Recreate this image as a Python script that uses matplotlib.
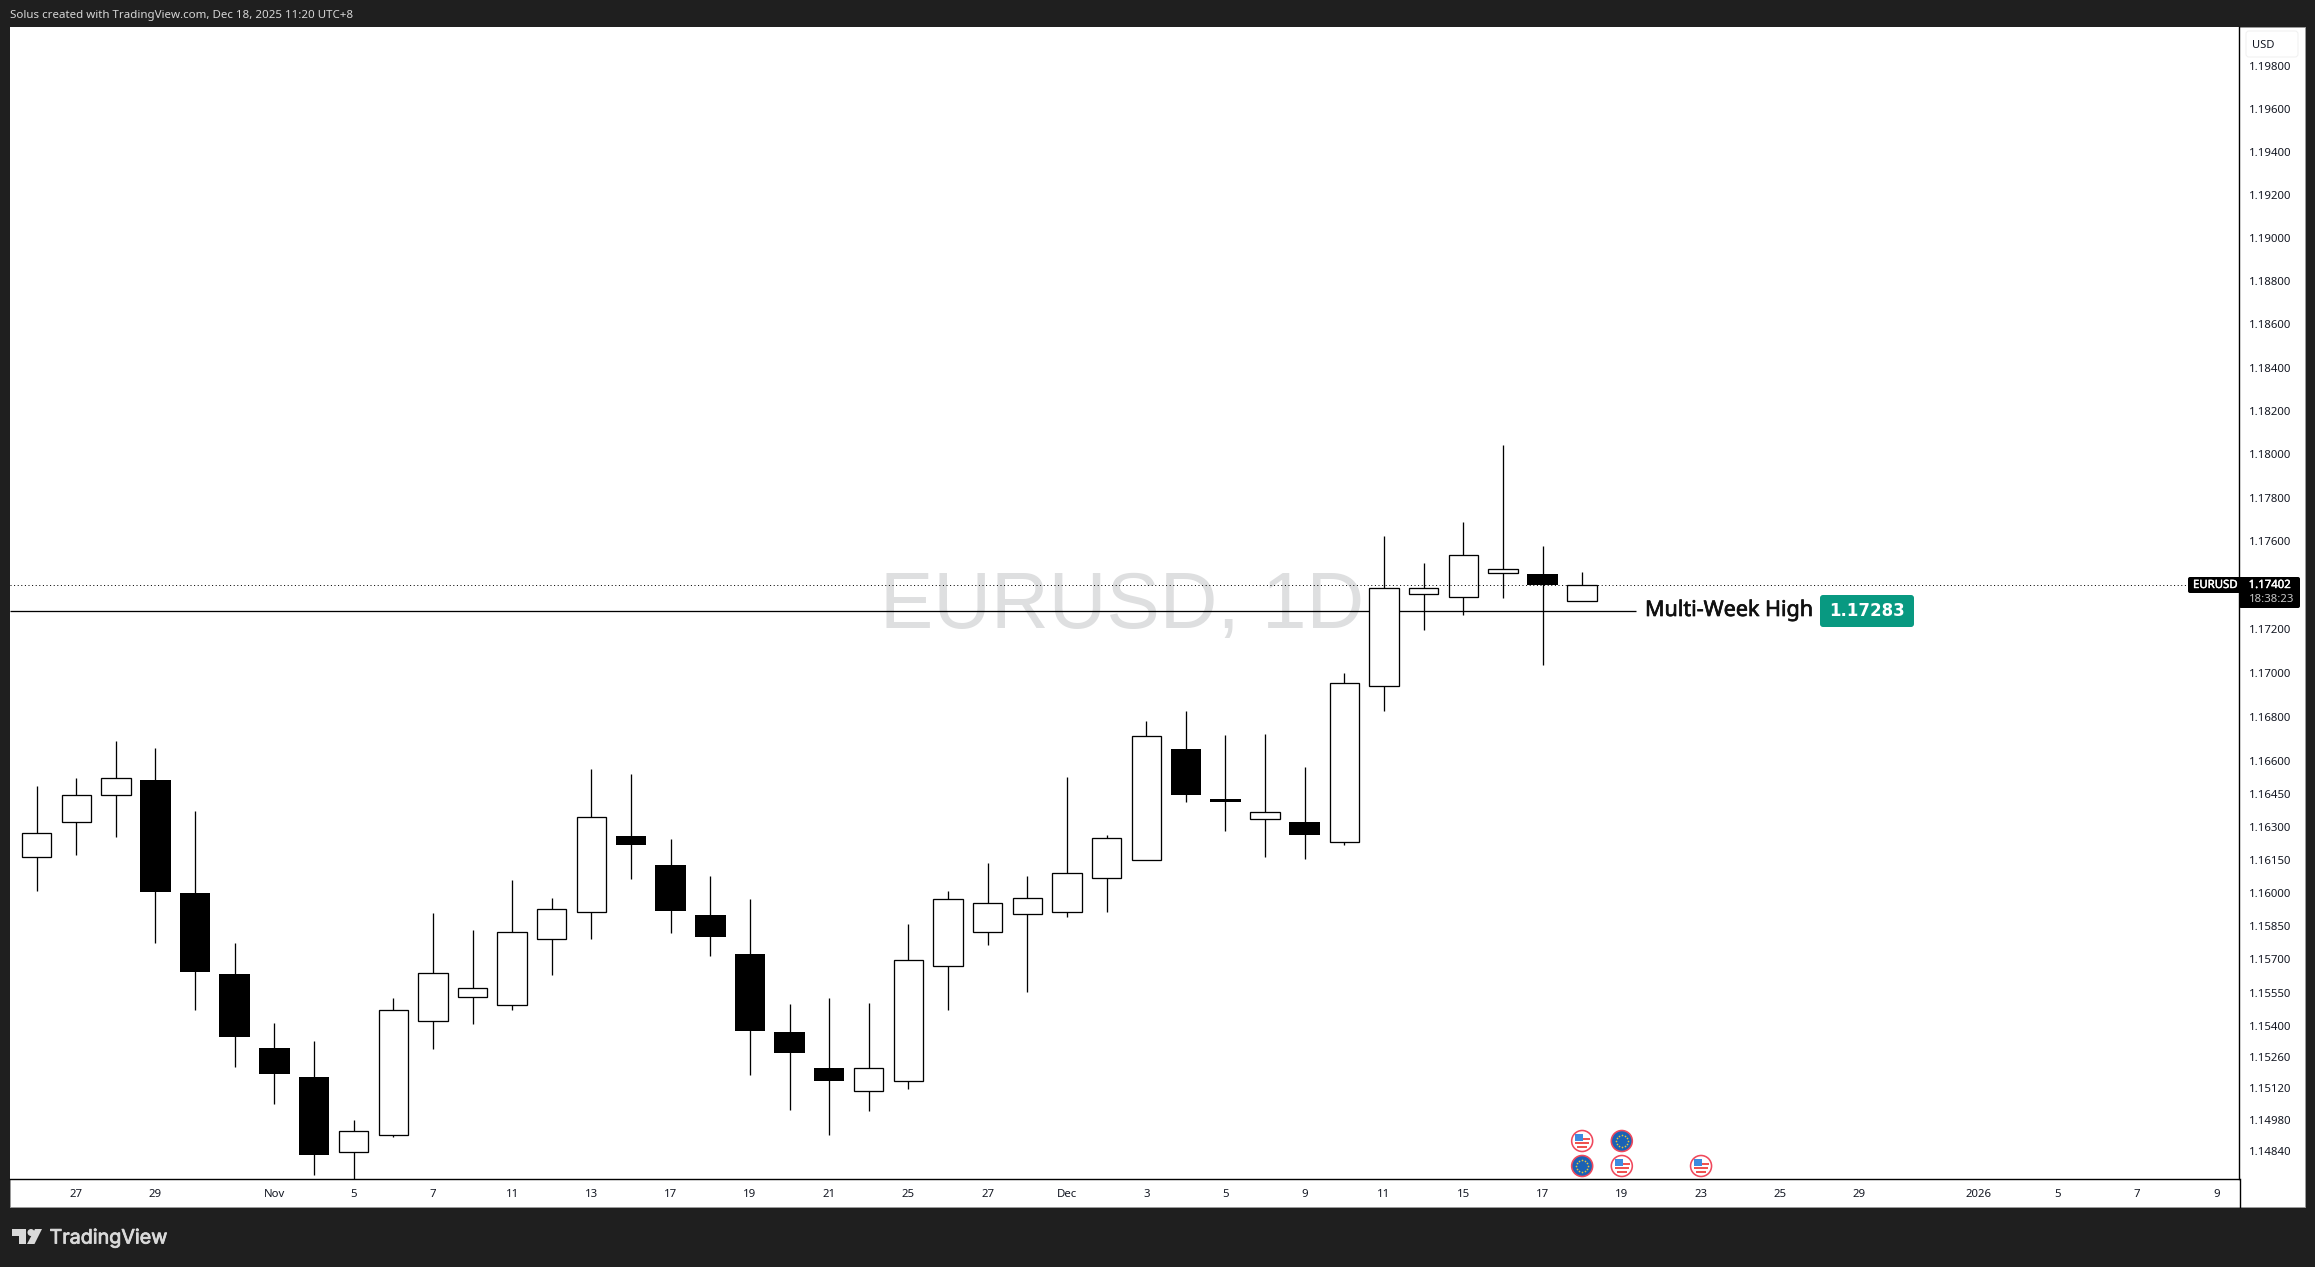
import numpy as np
import matplotlib
matplotlib.use("Agg")
import matplotlib.pyplot as plt
import matplotlib.patheffects as pe
from matplotlib.patches import Rectangle, FancyBboxPatch, Circle, Polygon
from matplotlib.ticker import NullLocator, NullFormatter

# EURUSD daily candles
opens = [1.16161, 1.16320, 1.16442, 1.16512, 1.16000, 1.15634, 1.15301, 1.15171, 1.14833, 1.14909,
         1.15424, 1.15529, 1.15496, 1.15794, 1.15915, 1.16258, 1.16126, 1.15900, 1.15725, 1.15373,
         1.15212, 1.15110, 1.15155, 1.15672, 1.15825, 1.15906, 1.15915, 1.16069, 1.16151, 1.16653,
         1.16425, 1.16336, 1.16321, 1.16232, 1.16941, 1.17361, 1.17344, 1.17457, 1.17449, 1.17329]
highs = [1.16485, 1.16521, 1.16689, 1.16658, 1.16371, 1.15774, 1.15414, 1.15333, 1.14979, 1.15526,
         1.15909, 1.15833, 1.16059, 1.15977, 1.16562, 1.16539, 1.16244, 1.16077, 1.15974, 1.15499,
         1.15526, 1.15504, 1.15860, 1.16010, 1.16136, 1.16077, 1.16526, 1.16262, 1.16780, 1.16826,
         1.16717, 1.16721, 1.16571, 1.16999, 1.17625, 1.17500, 1.17689, 1.18043, 1.17578, 1.17459]
lows = [1.16009, 1.16172, 1.16253, 1.15774, 1.15472, 1.15216, 1.15050, 1.14730, 1.14690, 1.14904,
        1.15297, 1.15409, 1.15472, 1.15630, 1.15792, 1.16063, 1.15819, 1.15716, 1.15180, 1.15023,
        1.14912, 1.15019, 1.15117, 1.15472, 1.15765, 1.15553, 1.15891, 1.15914, 1.16151, 1.16412,
        1.16281, 1.16163, 1.16154, 1.16217, 1.16826, 1.17195, 1.17265, 1.17343, 1.17036, 1.17329]
closes = [1.16270, 1.16442, 1.16520, 1.16004, 1.15643, 1.15351, 1.15185, 1.14822, 1.14928, 1.15471,
          1.15637, 1.15570, 1.15822, 1.15926, 1.16342, 1.16217, 1.15918, 1.15801, 1.15378, 1.15279,
          1.15153, 1.15210, 1.15696, 1.15971, 1.15953, 1.15979, 1.16089, 1.16247, 1.16712, 1.16444,
          1.16412, 1.16365, 1.16262, 1.16955, 1.17385, 1.17385, 1.17537, 1.17472, 1.17400, 1.17402]

last_price = 1.17402
level = 1.17283

price_ticks = [1.198, 1.196, 1.194, 1.192, 1.19, 1.188, 1.186, 1.184, 1.182, 1.18, 1.178, 1.176,
               1.172, 1.17, 1.168, 1.166, 1.1645, 1.163, 1.1615, 1.16, 1.1585, 1.157, 1.1555,
               1.154, 1.1526, 1.1512, 1.1498, 1.1484]
date_ticks = [2, 4, 7, 9, 11, 13, 15, 17, 19, 21, 23, 25, 27, 29, 31, 33, 35, 37, 39, 41, 43, 45, 47,
              50, 52, 54, 56]
date_labels = ["27", "29", "Nov", "5", "7", "11", "13", "17", "19", "21", "25", "27", "Dec", "3", "5",
               "9", "11", "15", "17", "19", "23", "25", "29", "2026", "5", "7", "9"]

# economic events: candle position, row, flag
event_x = [40, 40, 41, 41, 43]
event_row = [1141, 1166, 1141, 1166, 1166]
event_flag = ["us", "eu", "eu", "us", "us"]

W, H = 2315, 1267
FONT = "Noto Sans"
plt.rcParams["font.family"] = [FONT, "DejaVu Sans"]
TXT = "#131722"
px = 0.72  # one pixel in points at dpi 100


def heavy(color, w=0.35):
    # the sans here has no usable bold, so thicken the glyphs a little
    return [pe.withStroke(linewidth=w, foreground=color)]


fig = plt.figure(figsize=(W / 100, H / 100), dpi=100, facecolor="#1f1f1f")

# white panel behind the chart
fig.patches.append(Rectangle((10 / W, 1 - 1207 / H), 2295 / W, 1180 / H, transform=fig.transFigure,
                             facecolor="white", edgecolor="#9a9a9a", linewidth=px, zorder=-1))

ax = fig.add_axes([10 / W, 1 - 1179 / H, 2229 / W, 1152 / H])
ax.set_yscale("log")
ax.set_xlim(0.329, 56.575)
ax.set_ylim(1.14714, 1.19982)

x = np.arange(1, len(opens) + 1)
o, h, l, c = map(np.array, (opens, highs, lows, closes))
up = c >= o

ax.text(28.39, 1.1730, "EURUSD, 1D", family="Liberation Sans", fontsize=57.6, color="#dedfe0",
        ha="center", va="center", zorder=1)
ax.hlines(level, 0.329, 41.36, color="black", linewidth=px * 1.3, zorder=2)

ax.vlines(x, l, h, color="black", linewidth=px * 1.3, zorder=3)
ax.bar(x[up], (c - o)[up], bottom=o[up], width=0.74, facecolor="white", edgecolor="black",
       linewidth=px * 1.3, zorder=4)
ax.bar(x[~up], (o - c)[~up], bottom=c[~up], width=0.77, facecolor="black", edgecolor="black",
       linewidth=0, zorder=4)
ax.axhline(last_price, color="black", linewidth=px, linestyle=(0, (1, 2.6)), zorder=5)

for s in ["left", "top"]:
    ax.spines[s].set_visible(False)
for s in ["right", "bottom"]:
    ax.spines[s].set_linewidth(px * 1.4)

ax.yaxis.tick_right()
ax.set_yticks(price_ticks)
ax.set_yticklabels([f"{t:.5f}" for t in price_ticks])
ax.yaxis.set_minor_locator(NullLocator())
ax.yaxis.set_minor_formatter(NullFormatter())
ax.set_xticks(date_ticks)
ax.set_xticklabels(date_labels)
ax.tick_params(axis="y", length=0, pad=7, labelsize=8.2, labelcolor=TXT)
ax.tick_params(axis="x", length=0, pad=7, labelsize=8.2, labelcolor=TXT)

# overlay in pixel coordinates for the chrome around the chart
ov = fig.add_axes([0, 0, 1, 1], facecolor="none")
ov.set_xlim(0, W)
ov.set_ylim(H, 0)
ov.axis("off")

ov.plot([2239.5, 2239.5], [1179, 1207], color="black", linewidth=px * 1.4)
ov.text(10, 15.5, "Solus created with TradingView.com, Dec 18, 2025 11:20 UTC+8", color="#d6d6d6",
        fontsize=8.3, va="center", ha="left")

# USD box
ov.add_patch(FancyBboxPatch((2246, 31), 52, 26, boxstyle="round,pad=0,rounding_size=3",
                            facecolor="white", edgecolor="#f0f0f0", linewidth=px))
ov.text(2252, 45, "USD", color=TXT, fontsize=8, va="center", ha="left")

# last price tag
ov.add_patch(FancyBboxPatch((2188, 577), 60, 16, boxstyle="round,pad=0,rounding_size=2",
                            facecolor="black", edgecolor="none"))
ov.add_patch(FancyBboxPatch((2239, 577), 61, 31, boxstyle="round,pad=0,rounding_size=2",
                            facecolor="black", edgecolor="none"))
ov.text(2193, 585.5, "EURUSD", color="white", fontsize=8.2, va="center", ha="left",
        path_effects=heavy("white", 0.3))
ov.text(2248.6, 585.5, f"{last_price:.5f}", color="white", fontsize=8.2, va="center", ha="left",
        path_effects=heavy("white", 0.3))
ov.text(2248.6, 600, "18:38:23", color="#c8c8c8", fontsize=8.2, va="center", ha="left")

# level label
ov.text(1645, 610.5, "Multi-Week High", color="#111111", fontsize=15.5, va="center", ha="left",
        path_effects=heavy("#111111", 0.5))
ov.add_patch(FancyBboxPatch((1820, 595), 94, 32, boxstyle="round,pad=0,rounding_size=3",
                            facecolor="#089981", edgecolor="none"))
ov.text(1867, 611.5, f"{level:.5f}", color="white", fontsize=12, va="center", ha="center",
        family="DejaVu Sans", fontweight="bold")


def draw_event(cx, cy, flag):
    r = 10.5
    if flag == "us":
        ov.add_patch(Circle((cx, cy), r, facecolor="white", edgecolor="#f0485c", linewidth=px * 1.6))
        ov.add_patch(Rectangle((cx - 7, cy + 1), 14, 2, facecolor="#ef5350", edgecolor="none"))
        ov.add_patch(Rectangle((cx + 1, cy - 3), 7, 2, facecolor="#ef5350", edgecolor="none"))
        ov.add_patch(Rectangle((cx - 5, cy + 5), 10, 2, facecolor="#ef5350", edgecolor="none"))
        ov.add_patch(Rectangle((cx - 7, cy - 7), 8, 7, facecolor="#3d8be0", edgecolor="none"))
    else:
        ov.add_patch(Circle((cx, cy), r, facecolor="#1b62b5", edgecolor="#f0485c", linewidth=px * 1.6))
        a = np.arange(0, 2 * np.pi, np.pi / 6)
        ov.scatter(cx + 6 * np.cos(a), cy + 6 * np.sin(a), s=1.5, color="#e6c33a", linewidths=0)


for ex, ey, fl in zip(event_x, event_row, event_flag):
    draw_event(36.6 + (ex - 1) * 39.63, ey, fl)

# TradingView logo
logo = "#d9d9d9"
ov.add_patch(Polygon([(12, 1229), (26, 1229), (26, 1244), (18.5, 1244), (18.5, 1236), (12, 1236)],
                     facecolor=logo, edgecolor="none"))
ov.add_patch(Circle((31, 1232.5), 3.5, facecolor=logo, edgecolor="none"))
ov.add_patch(Polygon([(35, 1229), (42, 1229), (34.5, 1244), (27, 1244)], facecolor=logo, edgecolor="none"))
ov.text(49.5, 1238.5, "TradingView", color=logo, fontsize=14.2, va="center", ha="left", family="Inter",
        path_effects=heavy(logo, 0.6))

fig.savefig("out.png", dpi=100, facecolor=fig.get_facecolor())
